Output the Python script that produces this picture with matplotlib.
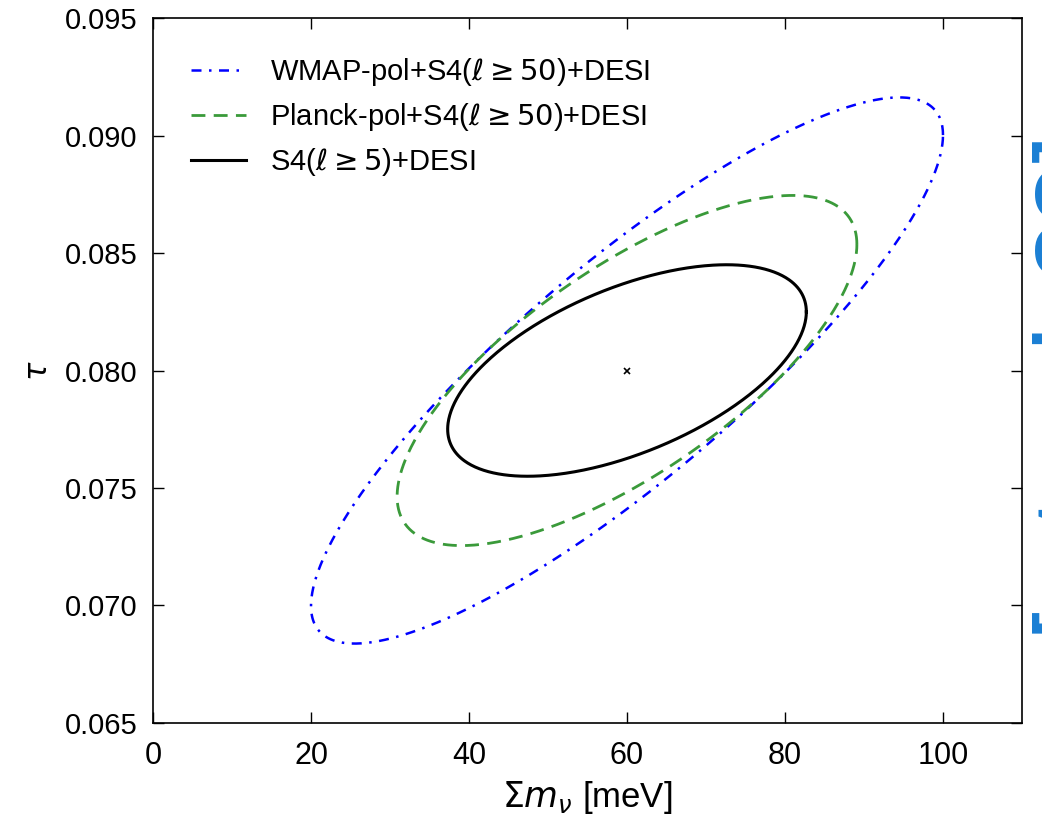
import numpy as np
import matplotlib
matplotlib.use("Agg")
import matplotlib.pyplot as plt

# Data: contour ellipses (center, half-extent in x, half-extent in y, correlation)
center = (60.0, 0.080)
labels = [r"WMAP-pol+S4($\ell \geq 50$)+DESI",
          r"Planck-pol+S4($\ell \geq 50$)+DESI",
          r"S4($\ell \geq 5$)+DESI"]
half_x = [40.0, 29.1, 22.7]
half_y = [0.01162, 0.00745, 0.0045]
rho = [0.862, 0.72, 0.555]
colors = ["#0000ff", "#3a9a3a", "#000000"]
styles = [(0, (4, 3, 1, 3)), (0, (5, 3)), "-"]
widths = [1.8, 2.0, 2.2]

xticks = [0, 20, 40, 60, 80, 100]
yticks = [0.065, 0.070, 0.075, 0.080, 0.085, 0.090, 0.095]

plt.rcParams['font.family'] = ['Liberation Sans', 'DejaVu Sans']
plt.rcParams['mathtext.fontset'] = 'dejavusans'

fig = plt.figure(figsize=(10.42, 8.15), dpi=100)
ax = fig.add_axes([153/1042, 1 - 723/815, (1022-153)/1042, (723-18)/815])

t = np.linspace(0, 2*np.pi, 600)
for hx, hy, r, c, ls, lw, lab in zip(half_x, half_y, rho, colors, styles, widths, labels):
    cov = np.array([[hx**2, r*hx*hy], [r*hx*hy, hy**2]])
    L = np.linalg.cholesky(cov)
    pts = L @ np.vstack([np.cos(t), np.sin(t)])
    ax.plot(center[0] + pts[0], center[1] + pts[1], color=c, ls=ls, lw=lw, label=lab)

ax.plot([center[0]], [center[1]], marker='x', color='k', ms=5, mew=1.2, ls='none')

ax.set_xlim(0, 110)
ax.set_ylim(0.065, 0.095)
ax.set_xticks(xticks)
ax.set_yticks(yticks)
ax.set_yticklabels([f"{v:.3f}" for v in yticks])
ax.tick_params(direction='in', length=8, width=1, top=True, right=True, labelsize=21)
ax.tick_params(axis='y', pad=11)
ax.tick_params(axis='x', pad=13, labelsize=22)
for s in ax.spines.values():
    s.set_linewidth(1.2)
ax.set_xlabel(r"$\Sigma m_\nu$ [meV]", fontsize=25, labelpad=6)
ax.set_ylabel(r"$\tau$", fontsize=22, labelpad=8)

leg = ax.legend(loc='upper left', frameon=False, fontsize=21, handlelength=1.9,
                borderaxespad=0.9, labelspacing=0.45, handletextpad=0.8)

fig.text(1.022, 0.531, "[astro-ph.CO]", rotation=90, color='#1a7fd4', fontsize=56,
         fontweight='bold', ha='center', va='center')

fig.savefig("out.png", dpi=100)
